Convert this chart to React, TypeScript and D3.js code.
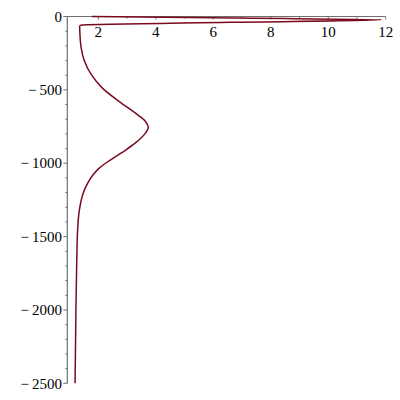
import React from "react";
import * as d3 from "d3";

const depths = [0, -11, -22, -40, -58, -66, -120, -210, -300, -395, -490, -580, -670, -715, -755, -800, -860, -910, -950, -990, -1030, -1080, -1135, -1180, -1225, -1320, -1450, -1650, -2000, -2500];
const values = [1.77, 6.8, 11.85, 6.6, 1.42, 1.35, 1.36, 1.40, 1.51, 1.75, 2.15, 2.73, 3.37, 3.64, 3.74, 3.62, 3.30, 2.95, 2.64, 2.33, 2.05, 1.81, 1.63, 1.52, 1.44, 1.34, 1.28, 1.25, 1.22, 1.19];

const xMajorTicks = [2, 4, 6, 8, 10, 12];
const xMinorTicks = [3, 5, 7, 9, 11];
const yMajorTicks = [0, -500, -1000, -1500, -2000, -2500];
const yMinorTicks = d3.range(-2400, 0, 100).filter((v) => v % 500 !== 0);

const xDomain = [0.92, 12];
const yDomain = [-2500, 0];

export default function App() {
  const x = d3.scaleLinear().domain(xDomain).range([67.3, 385.7]);
  const y = d3.scaleLinear().domain(yDomain).range([383.3, 16.5]);
  const pts: [number, number][] = depths.map((d, i) => [x(values[i]), y(d)]);
  const line = d3.line().curve(d3.curveMonotoneY)(pts) || "";
  const axisColor = "#707070";
  const font = "'Liberation Serif', 'Times New Roman', serif";
  const fmt = (v: number) => (v < 0 ? "\u2212\u2009" + Math.abs(v) : String(v));
  return (
    <div style={{ position: "absolute", left: 0, top: 0 }}>
      <svg width={400} height={400} style={{ display: "block", background: "#fff" }}>
        {/* x axis */}
        <line x1={x(xDomain[0])} x2={x(12)} y1={y(0)} y2={y(0)} stroke={axisColor} strokeWidth={1.2} />
        {xMajorTicks.map((t) => (
          <g key={"xm" + t}>
            <line x1={x(t)} x2={x(t)} y1={y(0)} y2={y(0) + 3} stroke={axisColor} strokeWidth={1} />
            <text x={x(t)} y={37} textAnchor="middle" fontFamily={font} fontSize={15} fill="#000">
              {fmt(t)}
            </text>
          </g>
        ))}
        {xMinorTicks.map((t) => (
          <line key={"xn" + t} x1={x(t)} x2={x(t)} y1={y(0)} y2={y(0) + 2} stroke={axisColor} strokeWidth={1} />
        ))}
        {/* y axis */}
        <line x1={x(xDomain[0])} x2={x(xDomain[0])} y1={y(0)} y2={y(-2500)} stroke={axisColor} strokeWidth={1.2} />
        {yMajorTicks.map((t) => (
          <g key={"ym" + t}>
            <line x1={x(xDomain[0]) - 4} x2={x(xDomain[0])} y1={y(t)} y2={y(t)} stroke={axisColor} strokeWidth={1} />
            <text x={62} y={y(t)} dy="0.35em" textAnchor="end" fontFamily={font} fontSize={15} fill="#000">
              {fmt(t)}
            </text>
          </g>
        ))}
        {yMinorTicks.map((t) => (
          <line key={"yn" + t} x1={x(xDomain[0]) - 2} x2={x(xDomain[0])} y1={y(t)} y2={y(t)} stroke={axisColor} strokeWidth={1} />
        ))}
        <path d={line} fill="none" stroke="#7A0A1E" strokeWidth={1.5} strokeLinejoin="round" />
      </svg>
    </div>
  );
}
